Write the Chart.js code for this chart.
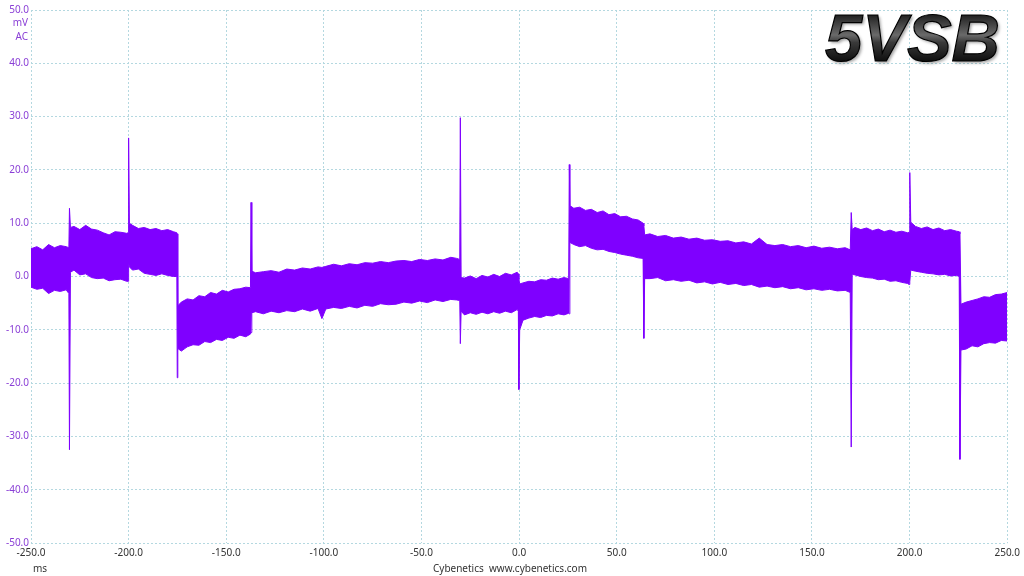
<!DOCTYPE html>
<html>
<head>
<meta charset="utf-8">
<title>5VSB ripple</title>
<script src="https://cdn.jsdelivr.net/npm/chart.js@4"></script>
<style>
  body { margin: 0; background: #fff; }
  #wrap { width: 1024px; height: 576px; position: relative; }
</style>
</head>
<body>
<div id="wrap"><canvas id="rippleChart" width="1024" height="576"></canvas></div>
<script>
// time axis (ms) and the upper / lower edge of the ripple band (mV)
var timeMs = [
  -250, -247, -244, -241, -238, -235, -232, -230.6, -230.3, -229.8,
  -228, -225, -222, -219, -216, -213, -210, -207, -204, -201, -200.3, -200, -199.6,
  -198, -195, -192, -189, -186, -183, -180, -177, -175.3, -175.1, -174.8,
  -173, -170, -167, -164, -161, -158, -155, -152, -149, -146, -143, -140, -137.6, -137.3, -136.9,
  -135, -131, -127, -123, -119, -115, -111, -107, -103, -101, -99, -95, -91, -87, -83, -79, -75,
  -71, -67, -63, -59, -55, -51, -47, -43, -39, -35, -32, -30.4, -30.1, -29.7,
  -28, -25, -22, -19, -16, -13, -10, -7, -4, -1, -0.4, -0.1, 0.3,
  2, 5, 8, 11, 14, 17, 20, 23, 25.4, 25.7, 26.0,
  28, 31, 34, 37, 40, 43, 46, 49, 52, 55, 58, 61, 63.5, 63.9, 64.3,
  67, 71, 75, 79, 83, 87, 91, 95, 99, 103, 107, 111, 115, 119, 123, 127, 131, 135, 139, 143,
  147, 151, 155, 159, 163, 167, 169.6, 170.1, 170.6,
  172, 175, 178, 181, 184, 187, 190, 193, 196, 199, 199.7, 200.1, 200.6,
  203, 206, 209, 212, 215, 218, 221, 224, 225.4, 225.8, 226.3,
  229, 232, 235, 238, 241, 244, 247, 250
];
var upperMv = [
  5.2, 5.6, 5.0, 6.0, 5.4, 5.8, 5.6, 5.4, 12.8, 9.2,
  9.4, 8.8, 9.6, 8.9, 8.7, 8.2, 7.8, 8.4, 8.3, 8.1, 8.2, 26.0, 10.0,
  9.6, 9.0, 9.2, 8.8, 9.0, 8.6, 8.8, 8.4, 8.2, 8.0, -5.5,
  -4.8, -4.2, -4.4, -3.6, -3.8, -3.0, -3.3, -2.6, -2.9, -2.4, -2.3, -2.0, -2.1, 13.9, 1.0,
  0.7, 0.9, 1.1, 0.8, 1.4, 1.2, 1.6, 1.4, 1.8, 1.7, 1.9, 2.3, 2.0, 2.4, 2.2, 2.6, 2.5,
  2.8, 2.6, 2.9, 3.0, 2.8, 3.2, 3.0, 3.3, 3.1, 3.6, 3.4, 3.2, 29.8, -0.2,
  -0.3, 0.1, -0.4, 0.2, -0.1, 0.4, 0.0, 0.6, 0.3, 0.8, 0.5, -0.5, -1.4,
  -1.2, -0.9, -1.0, -0.6, -0.7, -0.3, -0.5, -0.2, -0.4, 21.0, 13.3,
  12.8, 13.0, 12.4, 12.6, 12.0, 12.3, 11.6, 11.8, 11.2, 11.3, 10.8, 10.6, 10.0, 9.5, 7.8,
  8.0, 7.5, 7.7, 7.2, 7.4, 7.0, 7.2, 6.8, 6.9, 6.6, 6.7, 6.3, 6.5, 6.1, 7.2, 6.0, 5.8, 6.0, 5.6, 5.8,
  5.4, 5.7, 5.3, 5.5, 5.2, 5.4, 5.0, 12.0, 8.8,
  9.2, 8.8, 9.1, 8.6, 8.9, 8.4, 8.7, 8.3, 8.5, 8.2, 8.3, 19.5, 10.2,
  9.4, 9.0, 9.3, 8.8, 9.1, 8.6, 8.8, 8.5, 8.4, 8.0, -5.2,
  -4.8, -4.5, -4.2, -3.8, -3.9, -3.4, -3.3, -3.0
];
var lowerMv = [
  -2.0, -2.4, -2.2, -3.2, -2.6, -2.8, -2.5, -3.2, -32.5, 0.8,
  1.2, 0.3, 0.5, -0.2, -0.4, -0.3, -0.8, -0.6, -0.5, -0.9, -0.9, 2.6, 1.8,
  1.2, 1.4, 0.6, 0.4, 0.2, 0.5, 0.2, 0.0, 0.0, -19.0, -13.5,
  -14.0, -13.2, -12.8, -12.9, -12.2, -12.4, -11.8, -12.0, -11.4, -11.6, -11.0, -11.3, -10.8, -10.5, -6.8,
  -6.6, -7.0, -6.5, -6.8, -6.4, -6.6, -6.1, -6.5, -6.0, -7.9, -6.1, -5.8, -6.0, -5.6, -5.9, -5.4, -5.6,
  -5.1, -5.3, -5.2, -4.8, -5.0, -4.6, -4.9, -4.4, -4.7, -4.3, -4.4, -4.5, -12.6, -6.5,
  -7.2, -6.8, -7.1, -6.7, -7.0, -6.6, -6.9, -6.5, -6.8, -6.2, -6.5, -21.2, -10.0,
  -8.2, -7.8, -7.5, -7.7, -7.3, -7.4, -7.0, -7.2, -6.9, -7.0, 6.4,
  6.0, 5.6, 5.8, 5.3, 5.0, 5.1, 4.7, 4.5, 4.2, 4.0, 3.8, 3.5, 3.4, -11.6, -0.4,
  -0.4, -0.2, -0.8, -0.6, -0.9, -0.7, -1.2, -1.0, -1.4, -1.1, -1.5, -1.3, -1.7, -1.5, -2.0, -1.8, -2.1, -1.9, -2.3, -2.1,
  -2.5, -2.3, -2.6, -2.4, -2.7, -2.6, -3.0, -32.0, 0.4,
  0.3, 0.0, -0.2, -0.3, -0.6, -0.5, -0.9, -0.8, -1.1, -1.3, -1.5, -1.0, 1.2,
  1.0, 0.8, 0.6, 0.5, 0.3, 0.4, 0.1, 0.2, 0.0, -34.3, -13.8,
  -13.6, -13.0, -13.2, -12.6, -12.4, -12.5, -12.0, -12.1
];
var xTicks = [-250, -200, -150, -100, -50, 0, 50, 100, 150, 200, 250];
var yTicks = [-50, -40, -30, -20, -10, 0, 10, 20, 30, 40, 50];

var bandColor = '#7f00ff';
var gridColor = '#b4d8e0';

Chart.defaults.font.family = "'Noto Sans', sans-serif";
Chart.defaults.font.size = 10;

var upperPts = upperMv.map(function (v, i) { return { x: timeMs[i], y: v }; });
var lowerPts = lowerMv.map(function (v, i) { return { x: timeMs[i], y: v }; });

var labelsPlugin = {
  id: 'extraText',
  afterDraw: function (chart) {
    var ctx = chart.ctx;
    ctx.save();
    // unit labels
    ctx.fillStyle = '#8a3fd6';
    ctx.font = "10px 'Noto Sans', sans-serif";
    ctx.textAlign = 'right';
    ctx.textBaseline = 'middle';
    ctx.fillText('mV', 28, 23);
    ctx.fillText('AC', 28, 37);
    ctx.fillStyle = '#333';
    ctx.textAlign = 'left';
    ctx.fillText('ms', 33, 569);
    ctx.textAlign = 'center';
    ctx.fillText('Cybenetics  www.cybenetics.com', 510, 569);
    // big title, metallic look
    ctx.font = "italic bold 67px 'Liberation Sans', Arial, sans-serif";
    ctx.textAlign = 'right';
    ctx.textBaseline = 'alphabetic';
    ctx.shadowColor = 'rgba(0,0,0,0.35)';
    ctx.shadowOffsetX = 2;
    ctx.shadowOffsetY = 2;
    ctx.shadowBlur = 3;
    var g = ctx.createLinearGradient(0, 13, 0, 62);
    g.addColorStop(0, '#1a1a1a');
    g.addColorStop(0.45, '#6a6a6a');
    g.addColorStop(0.6, '#3a3a3a');
    g.addColorStop(1, '#0d0d0d');
    ctx.fillStyle = g;
    ctx.fillText('5VSB', 1000, 61);
    ctx.shadowColor = 'transparent';
    ctx.lineWidth = 1.2;
    ctx.strokeStyle = '#000';
    ctx.strokeText('5VSB', 1000, 61);
    ctx.restore();
  }
};

var ctx = document.getElementById('rippleChart').getContext('2d');
var rippleChart = new Chart(ctx, {
  type: 'line',
  data: {
    datasets: [{
      label: 'upper',
      data: upperPts,
      borderColor: bandColor,
      backgroundColor: bandColor,
      borderWidth: 1,
      pointRadius: 0,
      tension: 0,
      fill: '+1'
    }, {
      label: 'lower',
      data: lowerPts,
      borderColor: bandColor,
      backgroundColor: bandColor,
      borderWidth: 1,
      pointRadius: 0,
      tension: 0,
      fill: false
    }]
  },
  options: {
    responsive: false,
    animation: false,
    layout: { padding: { top: 10, right: 13, left: 0, bottom: 0 } },
    plugins: {
      legend: { display: false },
      tooltip: { enabled: false }
    },
    scales: {
      x: {
        type: 'linear',
        min: -250,
        max: 250,
        afterBuildTicks: function (s) { s.ticks = xTicks.map(function (v) { return { value: v }; }); },
        afterFit: function (s) { s.height = 33; },
        ticks: {
          color: '#333',
          padding: 4,
          maxRotation: 0,
          callback: function (v) { return v.toFixed(1); }
        },
        grid: { color: gridColor, drawTicks: false },
        border: { display: false, dash: [2, 2] }
      },
      y: {
        min: -50,
        max: 50,
        afterBuildTicks: function (s) { s.ticks = yTicks.map(function (v) { return { value: v }; }); },
        afterFit: function (s) { s.width = 31; },
        ticks: {
          color: '#8a3fd6',
          padding: 2,
          callback: function (v) { return v.toFixed(1); }
        },
        grid: { color: gridColor, drawTicks: false },
        border: { display: false, dash: [2, 2] }
      }
    }
  },
  plugins: [labelsPlugin]
});
</script>
</body>
</html>
